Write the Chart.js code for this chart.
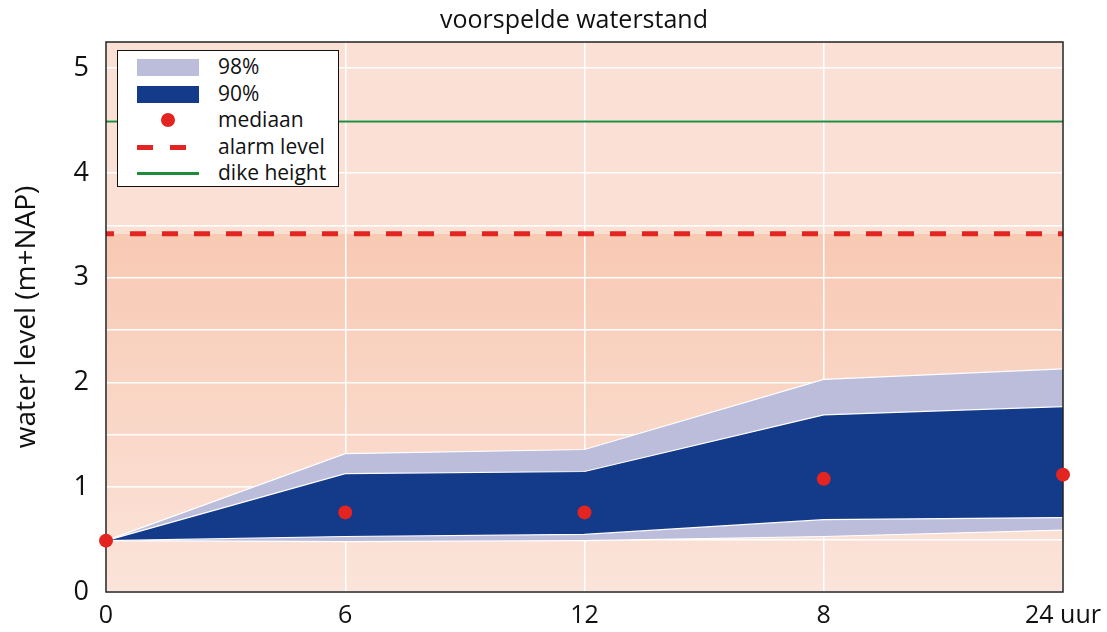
<!DOCTYPE html>
<html>
<head>
<meta charset="utf-8">
<script src="https://cdn.jsdelivr.net/npm/chart.js@4/dist/chart.umd.min.js"></script>
<style>
    body { margin: 0; background: #fff; font-family: "Open Sans", sans-serif; }
    #wrap { position: relative; width: 1107px; height: 632px; }
    #title {
        position: absolute; left: 0; top: 2px; width: 1148px; text-align: center;
        font-size: 25px; line-height: 32px; color: #111;
    }
    #legend {
        position: absolute; left: 117px; top: 50px; width: 222px; height: 137px;
        background: #fff; border: 1.5px solid #111; box-sizing: border-box;
    }
    .row { position: absolute; left: 0; height: 26px; width: 100%; }
    .row span { position: absolute; left: 100px; top: -1px; font-size: 21px; line-height: 26px; color: #111; }
    .sw { position: absolute; left: 19px; width: 62px; }
</style>
</head>
<body>
<div id="wrap">
    <canvas id="chart" width="1107" height="632"></canvas>
    <div id="title">voorspelde waterstand</div>
    <div id="legend"></div>
</div>
<script>
// x categories (hours)
const hours = ["0", "6", "12", "8", "24 uur"];

// forecast bands and median (m+NAP)
const p98Low  = [0.49, 0.48, 0.49, 0.53, 0.59];
const p98High = [0.49, 1.32, 1.36, 2.03, 2.13];
const p90Low  = [0.49, 0.53, 0.55, 0.69, 0.71];
const p90High = [0.49, 1.13, 1.15, 1.69, 1.77];
const median  = [0.49, 0.76, 0.76, 1.08, 1.12];

const alarmLevel = 3.42;
const dikeHeight = 4.49;

// grid every half metre, labels on whole metres
const yGrid = [0, 0.5, 1, 1.5, 2, 2.5, 3, 3.5, 4, 4.5, 5];
const yLabels = [0, 1, 2, 3, 4, 5];

const colors = {
    band98: "#bcbcdb",
    band90: "#143b8a",
    median: "#e32420",
    alarm: "#e32420",
    dike: "#1e8c3a"
};

// Background: light above alarm, darker gradient below
const backgroundPlugin = {
    id: "bgZones",
    beforeDraw(chart) {
        const { ctx, chartArea: a, scales: { y } } = chart;
        const ya = y.getPixelForValue(alarmLevel);
        ctx.save();
        ctx.fillStyle = "#fbe0d5";
        ctx.fillRect(a.left, a.top, a.right - a.left, ya - a.top);
        const g = ctx.createLinearGradient(0, ya, 0, a.bottom);
        g.addColorStop(0, "#f8c9b3");
        g.addColorStop(1, "#fbe4da");
        ctx.fillStyle = g;
        ctx.fillRect(a.left, ya, a.right - a.left, a.bottom - ya);
        ctx.restore();
    }
};

// Frame around plot area
const framePlugin = {
    id: "frame",
    afterDatasetsDraw(chart) {
        const { ctx, chartArea: a } = chart;
        ctx.save();
        ctx.strokeStyle = "#222";
        ctx.lineWidth = 1.5;
        ctx.strokeRect(a.left, a.top, a.right - a.left, a.bottom - a.top);
        ctx.restore();
    }
};

// Median dots drawn on top of the frame
const dotsPlugin = {
    id: "dotsTop",
    afterDraw(chart) {
        const meta = chart.getDatasetMeta(4);
        const ctx = chart.ctx;
        ctx.save();
        ctx.fillStyle = colors.median;
        meta.data.forEach(pt => {
            ctx.beginPath();
            ctx.arc(pt.x, pt.y, 7, 0, Math.PI * 2);
            ctx.fill();
        });
        ctx.restore();
    }
};

const ctx = document.getElementById("chart").getContext("2d");
new Chart(ctx, {
    type: "line",
    data: {
        labels: hours,
        datasets: [
            { label: "98% low", data: p98Low, borderColor: "#fff", borderWidth: 1.2, pointRadius: 0, fill: false, order: 3 },
            { label: "98%", data: p98High, borderColor: "#fff", borderWidth: 1.2, pointRadius: 0, fill: 0, backgroundColor: colors.band98, order: 3 },
            { label: "90% low", data: p90Low, borderColor: "#fff", borderWidth: 1.2, pointRadius: 0, fill: false, order: 2 },
            { label: "90%", data: p90High, borderColor: "#fff", borderWidth: 1.2, pointRadius: 0, fill: 2, backgroundColor: colors.band90, order: 2 },
            { label: "mediaan", data: median, showLine: false, pointRadius: 0, backgroundColor: colors.median, order: 0 },
            { label: "alarm level", data: hours.map(() => alarmLevel), borderColor: colors.alarm, borderWidth: 5, borderDash: [16, 16], borderDashOffset: 8, pointRadius: 0, fill: false, order: 1 },
            { label: "dike height", data: hours.map(() => dikeHeight), borderColor: colors.dike, borderWidth: 2, pointRadius: 0, fill: false, order: 1 }
        ]
    },
    options: {
        responsive: false,
        animation: false,
        layout: { padding: { left: 0, right: 44, top: 42, bottom: 0 } },
        plugins: {
            legend: { display: false },
            tooltip: { enabled: false },
            title: { display: false }
        },
        scales: {
            x: {
                type: "category",
                offset: false,
                grid: { color: "#fff", lineWidth: 1.5, drawTicks: false },
                border: { display: false },
                ticks: { color: "#111", font: { family: "Open Sans", size: 25 }, padding: 9, maxRotation: 0, autoSkip: false },
                afterFit(scale) { scale.height = 40; scale.paddingRight = 0; scale.paddingLeft = 0; }
            },
            y: {
                min: 0,
                max: 5.25,
                grid: { color: "#fff", lineWidth: 1.5, drawTicks: false },
                border: { display: false },
                afterBuildTicks(scale) { scale.ticks = yGrid.map(v => ({ value: v })); },
                ticks: {
                    color: "#111",
                    font: { family: "Open Sans", size: 27 },
                    padding: 17,
                    callback: v => yLabels.includes(v) ? String(v) : ""
                },
                title: {
                    display: true,
                    text: "water level (m+NAP)",
                    color: "#111",
                    font: { family: "Open Sans", size: 28 },
                    padding: { top: 10, bottom: 0 }
                },
                afterFit(scale) { scale.width = 106; }
            }
        }
    },
    plugins: [backgroundPlugin, framePlugin, dotsPlugin]
});

// HTML legend
const legendItems = [
    { text: "98%", kind: "box", color: colors.band98 },
    { text: "90%", kind: "box", color: colors.band90 },
    { text: "mediaan", kind: "dot", color: colors.median },
    { text: "alarm level", kind: "dash", color: colors.alarm },
    { text: "dike height", kind: "line", color: colors.dike }
];
const legend = document.getElementById("legend");
legendItems.forEach((it, i) => {
    const row = document.createElement("div");
    row.className = "row";
    row.style.top = (3 + i * 26.5) + "px";
    let sw = "";
    if (it.kind === "box") {
        sw = `<div class="sw" style="top:5px;height:17px;background:${it.color}"></div>`;
    } else if (it.kind === "dot") {
        sw = `<div class="sw" style="left:43px;width:14px;height:14px;top:6px;border-radius:50%;background:${it.color}"></div>`;
    } else if (it.kind === "dash") {
        sw = `<div class="sw" style="top:11px;height:5px;background:linear-gradient(90deg, ${it.color} 0 16px, transparent 16px 33px, ${it.color} 33px 49px, transparent 49px)"></div>`;
    } else {
        sw = `<div class="sw" style="top:12px;height:3px;background:${it.color}"></div>`;
    }
    row.innerHTML = sw + `<span>${it.text}</span>`;
    legend.appendChild(row);
});
</script>
</body>
</html>
